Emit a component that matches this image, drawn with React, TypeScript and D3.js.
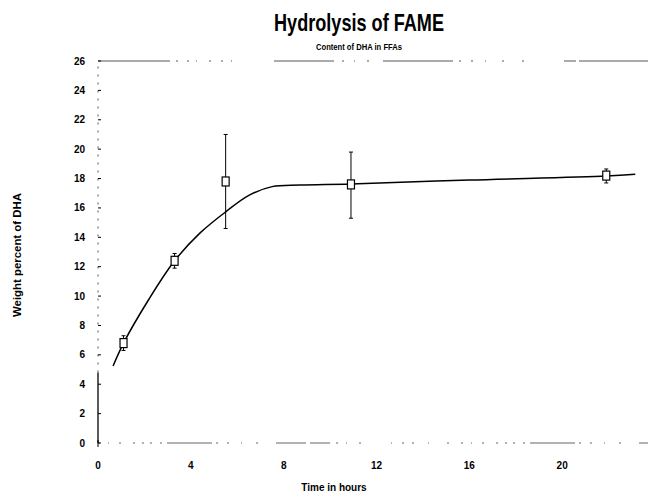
import React, { useEffect, useRef } from 'react';
import * as d3 from 'd3';

const times = [1.1, 3.3, 5.5, 10.9, 21.9];
const dha = [6.8, 12.4, 17.8, 17.6, 18.2];
const errLow = [6.3, 11.9, 14.6, 15.3, 17.7];
const errHigh = [7.3, 12.9, 21.0, 19.8, 18.65];

// fitted curve
const fitX = [0.65, 1.1, 2.2, 3.3, 4.4, 5.5, 6.5, 7.5, 8.7, 10.9, 16, 21.9, 23.15];
const fitY = [5.24, 6.8, 9.8, 12.4, 14.3, 15.73, 16.85, 17.45, 17.56, 17.63, 17.9, 18.17, 18.3];

const xTicks = [0, 4, 8, 12, 16, 20];
const yTicks = [0, 2, 4, 6, 8, 10, 12, 14, 16, 18, 20, 22, 24, 26];

const W = 650;
const H = 496;

const App = () => {
  const svgRef = useRef<SVGSVGElement>(null);

  useEffect(() => {
    const svg = d3.select(svgRef.current);
    svg.selectAll('*').remove();

    const x = d3.scaleLinear().domain([0, 24]).range([98, 655]);
    const y = d3.scaleLinear().domain([0, 26]).range([443, 61]);
    const font = "'Liberation Sans', Arial, sans-serif";

    // title (condensed bold in the original, squeezed with textLength)
    svg.append('text')
      .attr('x', 359).attr('y', 31)
      .attr('text-anchor', 'middle')
      .attr('textLength', 170).attr('lengthAdjust', 'spacingAndGlyphs')
      .style('font-family', font).style('font-weight', 'bold').style('font-size', '24px')
      .text('Hydrolysis of FAME');
    svg.append('text')
      .attr('x', 359).attr('y', 50)
      .attr('text-anchor', 'middle')
      .attr('textLength', 86).attr('lengthAdjust', 'spacingAndGlyphs')
      .style('font-family', font).style('font-weight', 'bold').style('font-size', '9px')
      .text('Content of DHA in FFAs');

    // frame lines (scanned look: broken strokes)
    svg.append('line')
      .attr('x1', x(0)).attr('x2', 648).attr('y1', y(26)).attr('y2', y(26))
      .attr('stroke', '#444').attr('stroke-width', 0.9)
      .attr('stroke-dasharray', '72,6,2,9,2,7,1,12,2,10,2,8,1,42,60,8,2,10,1,12,2,14,70,6,2,10,2,12,1,16,2,18,2,40,12,3');
    svg.append('line')
      .attr('x1', x(0)).attr('x2', 648).attr('y1', y(0)).attr('y2', y(0))
      .attr('stroke', '#555').attr('stroke-width', 0.9)
      .attr('stroke-dasharray', '2,8,1,10,2,12,2,7,2,6,2,8,2,5,45,4,2,9,2,12,1,14,2,18,30,4,20,6,2,8,1,12,2,30,1,10,2,8,2,14,1,18,2,12');
    svg.append('line')
      .attr('x1', x(0)).attr('x2', x(0)).attr('y1', y(0)).attr('y2', y(4.8))
      .attr('stroke', '#000').attr('stroke-width', 1.3);
    svg.append('line')
      .attr('x1', x(0)).attr('x2', x(0)).attr('y1', y(4.8)).attr('y2', y(26))
      .attr('stroke', '#444').attr('stroke-width', 0.9)
      .attr('stroke-dasharray', '2,6');

    // y ticks
    const yg = svg.append('g');
    yg.selectAll('line').data(yTicks).enter().append('line')
      .attr('x1', x(0)).attr('x2', x(0) + 3)
      .attr('y1', d => y(d)).attr('y2', d => y(d))
      .attr('stroke', '#000').attr('stroke-width', 1);
    yg.selectAll('text').data(yTicks).enter().append('text')
      .attr('x', 85).attr('y', d => y(d)).attr('dy', '0.35em')
      .attr('text-anchor', 'end')
      .style('font-family', font).style('font-weight', 'bold').style('font-size', '10px')
      .text(d => d);

    // x ticks
    const xg = svg.append('g');
    xg.selectAll('text').data(xTicks).enter().append('text')
      .attr('x', d => x(d)).attr('y', 469)
      .attr('text-anchor', 'middle')
      .style('font-family', font).style('font-weight', 'bold').style('font-size', '10px')
      .text(d => d);
    xg.append('line')
      .attr('x1', x(0)).attr('x2', x(0)).attr('y1', y(0) - 3).attr('y2', y(0) + 4)
      .attr('stroke', '#000');

    // axis titles
    svg.append('text')
      .attr('transform', `translate(21,255) rotate(-90)`)
      .attr('text-anchor', 'middle')
      .attr('textLength', 124).attr('lengthAdjust', 'spacingAndGlyphs')
      .style('font-family', font).style('font-weight', 'bold').style('font-size', '10px')
      .text('Weight percent of DHA');
    svg.append('text')
      .attr('x', 334).attr('y', 491)
      .attr('text-anchor', 'middle')
      .style('font-family', font).style('font-weight', 'bold').style('font-size', '10px')
      .text('Time in hours');

    // fitted curve
    const fit = fitX.map((v, i) => [v, fitY[i]] as [number, number]);
    svg.append('path')
      .datum(fit)
      .attr('d', d3.line<[number, number]>().x(d => x(d[0])).y(d => y(d[1])).curve(d3.curveCatmullRom.alpha(0.5)))
      .attr('fill', 'none').attr('stroke', '#000').attr('stroke-width', 1.5);

    // error bars and markers
    const pts = times.map((t, i) => ({ t, v: dha[i], lo: errLow[i], hi: errHigh[i] }));
    const eg = svg.append('g');
    eg.selectAll('line.err').data(pts).enter().append('line')
      .attr('class', 'err')
      .attr('x1', d => x(d.t)).attr('x2', d => x(d.t))
      .attr('y1', d => y(d.lo)).attr('y2', d => y(d.hi))
      .attr('stroke', '#000').attr('stroke-width', 1);
    eg.selectAll('line.capl').data(pts).enter().append('line')
      .attr('class', 'capl')
      .attr('x1', d => x(d.t) - 2).attr('x2', d => x(d.t) + 2)
      .attr('y1', d => y(d.lo)).attr('y2', d => y(d.lo))
      .attr('stroke', '#000').attr('stroke-width', 1);
    eg.selectAll('line.caph').data(pts).enter().append('line')
      .attr('class', 'caph')
      .attr('x1', d => x(d.t) - 2).attr('x2', d => x(d.t) + 2)
      .attr('y1', d => y(d.hi)).attr('y2', d => y(d.hi))
      .attr('stroke', '#000').attr('stroke-width', 1);
    eg.selectAll('rect').data(pts).enter().append('rect')
      .attr('x', d => x(d.t) - 3.5).attr('y', d => y(d.v) - 4.5)
      .attr('width', 7).attr('height', 9)
      .attr('fill', '#fff').attr('stroke', '#000').attr('stroke-width', 1.2);
  }, []);

  return (
    <div style={{ position: 'absolute', left: 0, top: 0, width: W, height: H, background: '#fff' }}>
      <svg ref={svgRef} width={W} height={H} style={{ display: 'block' }} />
    </div>
  );
};

export default App;
